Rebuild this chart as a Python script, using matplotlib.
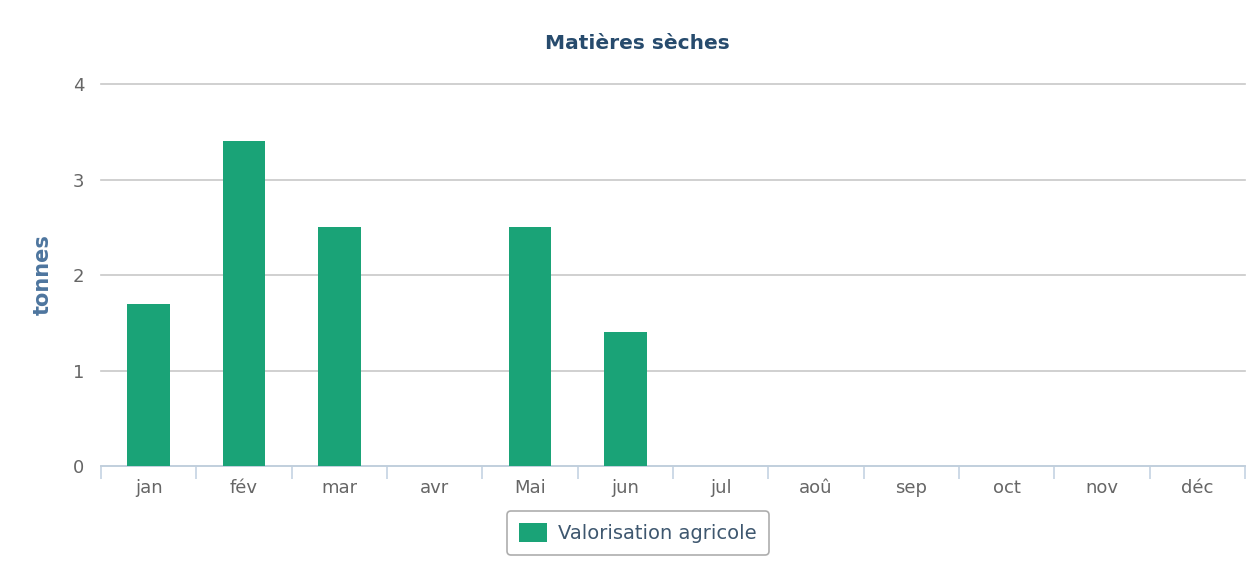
import numpy as np
import matplotlib.pyplot as plt
from matplotlib.ticker import FixedLocator

# Monthly dry matter, tonnes
months = ['jan', 'fév', 'mar', 'avr', 'Mai', 'jun',
          'jul', 'aoû', 'sep', 'oct', 'nov', 'déc']
valorisation = [1.7, 3.4, 2.5, 0, 2.5, 1.4, 0, 0, 0, 0, 0, 0]
y_ticks = [0, 1, 2, 3, 4]

BAR_COLOR = '#1aa377'
GRID_COLOR = '#c8c8c8'
AXIS_COLOR = '#c0d0e0'
LABEL_COLOR = '#666666'

plt.rcParams['font.family'] = ['DejaVu Sans']

fig = plt.figure(figsize=(12.53, 5.85), dpi=100)
ax = fig.add_axes([0.0806, 0.2034, 0.9130, 0.6530])

x = np.arange(len(months))
ax.bar(x, valorisation, width=0.45, color=BAR_COLOR, zorder=3,
       label='Valorisation agricole')

ax.set_xlim(-0.5, len(months) - 0.5)
ax.set_ylim(0, 4)
ax.set_yticks(y_ticks)
ax.set_xticks(x)
ax.set_xticklabels(months)
ax.xaxis.set_minor_locator(FixedLocator(np.arange(-0.5, len(months), 1)))

ax.grid(axis='y', color=GRID_COLOR, linewidth=1.2, zorder=0)
for line in ax.get_ygridlines():
    line.set_clip_on(False)
for side in ['top', 'right', 'left']:
    ax.spines[side].set_visible(False)
ax.spines['bottom'].set_color(AXIS_COLOR)
ax.spines['bottom'].set_linewidth(1.2)

ax.tick_params(axis='x', which='major', length=0, pad=9,
               labelsize=13, labelcolor=LABEL_COLOR)
ax.tick_params(axis='x', which='minor', length=9, width=1.1,
               color=AXIS_COLOR, direction='out')
ax.tick_params(axis='y', length=0, pad=12, labelsize=13,
               labelcolor=LABEL_COLOR)

ax.set_ylabel('tonnes', fontsize=15, fontweight='bold', color='#4d759e',
              labelpad=0)
ax.yaxis.set_label_coords(-0.042, 0.5)

fig.text(0.509, 0.925, 'Matières sèches', ha='center', va='center',
         fontsize=14.5, fontweight='bold', color='#274b6d')

leg = fig.legend(loc='center', bbox_to_anchor=(0.509, 0.089), fontsize=14,
                 frameon=True, fancybox=True, handlelength=1.45,
                 handleheight=1.1, handletextpad=0.6, borderpad=0.6,
                 labelcolor='#3e576f')
leg.get_frame().set_edgecolor('#999999')
leg.get_frame().set_linewidth(1.2)

fig.savefig('out.png', dpi=100, facecolor='white')
